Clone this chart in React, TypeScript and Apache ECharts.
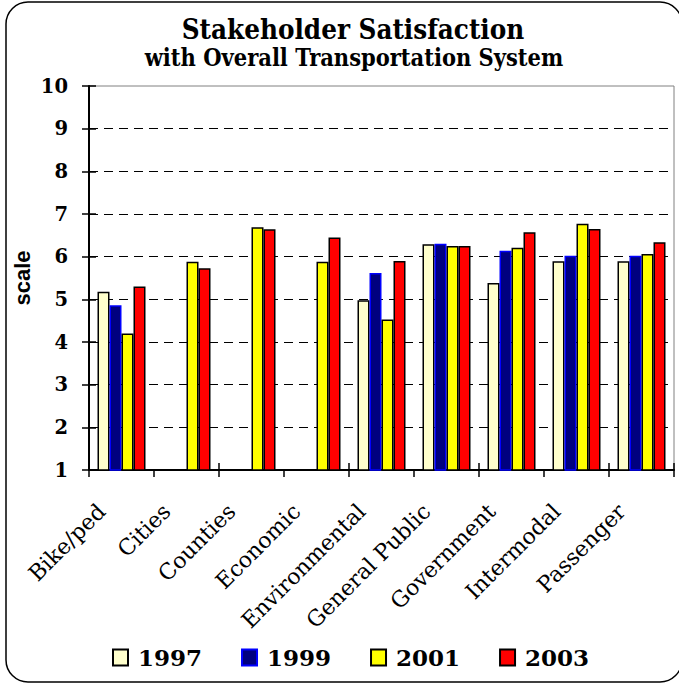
import { useEffect, useRef } from 'react';
import * as echarts from 'echarts';

const categories = ['Bike/ped', 'Cities', 'Counties', 'Economic', 'Environmental', 'General Public', 'Government', 'Intermodal', 'Passenger'];
const years = ['1997', '1999', '2001', '2003'];
const v1997 = [5.18, null, null, null, 4.98, 6.29, 5.38, 5.89, 5.89];
const v1999 = [4.86, null, null, null, 5.62, 6.3, 6.14, 6.02, 6.02];
const v2001 = [4.2, 5.88, 6.69, 5.88, 4.53, 6.25, 6.21, 6.77, 6.06];
const v2003 = [5.3, 5.73, 6.64, 6.45, 5.9, 6.25, 6.57, 6.65, 6.34];
const yMin = 1;
const yMax = 10;
const yStep = 1;

const seriesData = [v1997, v1999, v2001, v2003];
const fills = ['#FFFFCC', '#000080', '#FFFF00', '#FF0000'];
const borders = ['#000000', '#0000FF', '#000000', '#000000'];

export default function App() {
  const ref = useRef<HTMLDivElement>(null);
  useEffect(() => {
    document.body.style.margin = '0';
    const chart = echarts.init(ref.current!, null, { renderer: 'svg' });
    const serifBold = { fontFamily: 'DejaVu Serif', fontWeight: 'bold' as const, color: '#000' };
    const condensed = "'DejaVu Serif Condensed', 'DejaVu Serif'";
    const option: any = {
      animation: false,
      backgroundColor: '#fff',
      title: [
        {
          text: 'Stakeholder Satisfaction',
          left: 353,
          top: 15,
          textAlign: 'center',
          padding: 0,
          textStyle: { fontFamily: condensed, fontWeight: 'bold', fontSize: 27.5, color: '#000' },
        },
        {
          text: 'with Overall Transportation System',
          left: 354,
          top: 46,
          textAlign: 'center',
          padding: 0,
          textStyle: { fontFamily: condensed, fontWeight: 'bold', fontSize: 23.4, color: '#000' },
        },
      ],
      legend: {
        data: years,
        left: 112,
        top: 646,
        padding: 0,
        icon: 'rect',
        itemWidth: 15,
        itemHeight: 16,
        itemGap: 39,
        textStyle: { ...serifBold, fontSize: 23, padding: [0, 0, 0, 5] },
      },
      grid: {
        left: 89,
        right: 5,
        top: 86,
        bottom: 213,
        show: true,
        borderColor: '#808080',
        borderWidth: 1,
        backgroundColor: 'transparent',
        containLabel: false,
        outerBoundsMode: 'none',
      },
      graphic: [
        {
          type: 'rect',
          shape: { x: 6, y: 2, width: 676, height: 680, r: 22 },
          style: { fill: 'none', stroke: '#000', lineWidth: 1.5 },
          silent: true,
          z: -10,
        },
      ],
      xAxis: [
        {
          type: 'category',
          data: categories,
          position: 'bottom',
          axisLine: { show: true, lineStyle: { color: '#000', width: 2 } },
          axisTick: { show: true, length: 7, lineStyle: { color: '#000', width: 1.5 } },
          axisLabel: {
            show: true,
            interval: 0,
            rotate: 45,
            margin: 18,
            padding: [0, 28, 0, 0],
            fontFamily: 'DejaVu Serif',
            fontSize: 22,
            color: '#000',
          },
          splitLine: { show: false },
        },
        {
          type: 'category',
          data: categories,
          position: 'bottom',
          axisLine: { show: false },
          axisTick: { show: true, inside: true, length: 7, lineStyle: { color: '#000', width: 1.5 } },
          axisLabel: { show: false },
          splitLine: { show: false },
        },
      ],
      yAxis: [
        {
          type: 'value',
          min: yMin,
          max: yMax,
          interval: yStep,
          position: 'left',
          name: 'scale',
          nameLocation: 'middle',
          nameGap: 56,
          nameMoveOverlap: false,
          nameTextStyle: { fontFamily: "'Liberation Sans', Arial", fontWeight: 'bold', fontSize: 22, color: '#000' },
          axisLine: { show: true, lineStyle: { color: '#000', width: 2 } },
          axisTick: { show: true, length: 7, lineStyle: { color: '#000', width: 1.5 } },
          axisLabel: { ...serifBold, fontSize: 19.5, margin: 21 },
          splitLine: {
            show: true,
            showMinLine: false,
            showMaxLine: false,
            lineStyle: { color: '#000', width: 1, type: [9, 6] },
          },
        },
        {
          type: 'value',
          min: yMin,
          max: yMax,
          interval: yStep,
          position: 'left',
          axisLine: { show: false },
          axisTick: { show: true, inside: true, length: 7, lineStyle: { color: '#000', width: 1.5 } },
          axisLabel: { show: false },
          splitLine: { show: false },
        },
      ],
      series: years.map((y, i) => ({
        type: 'bar',
        name: y,
        data: seriesData[i],
        xAxisIndex: 0,
        yAxisIndex: 0,
        barWidth: 12,
        barGap: '0%',
        itemStyle: { color: fills[i], borderColor: borders[i], borderWidth: 1.5 },
      })),
    };
    chart.setOption(option);
    return () => chart.dispose();
  }, []);
  return <div ref={ref} style={{ width: 679, height: 683 }} />;
}
